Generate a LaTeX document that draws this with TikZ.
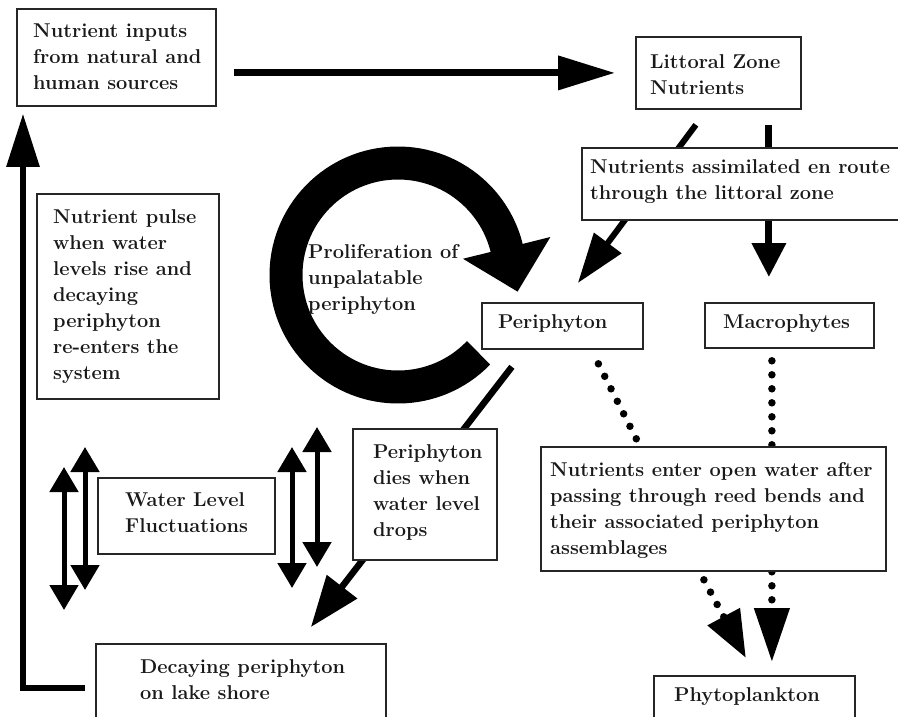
\documentclass[tikz,border=0pt]{standalone}
\usepackage{fontspec}
\usetikzlibrary{arrows.meta,calc}
\pgfdeclarelayer{bgfill}
\pgfdeclarelayer{behind}
\pgfsetlayers{bgfill,behind,main}
\tikzset{
  box/.style={draw=black!85, line width=1.8pt, fill=white, rectangle, inner sep=0pt, anchor=north west},
  txt/.style={align=left, inner sep=0pt, anchor=north west, text=black!90,
              font=\fontsize{20}{26}\selectfont\bfseries},
  dotline/.style={line width=7.5pt, dash pattern=on 0pt off 14pt, line cap=round},
  dbl/.style={line width=5pt, {Triangle[length=25pt,width=28pt]}-{Triangle[length=25pt,width=28pt]}}
}
\begin{document}
\begin{tikzpicture}[x=1pt,y=-1pt]
\clip (0,0) rectangle (898,716);
\begin{pgfonlayer}{bgfill}
\fill[white] (0,0) rectangle (898,716);
\end{pgfonlayer}

% boxes
\node[box, minimum width=199pt, minimum height=97pt] (inputs) at (16,8) {};
\node[box, minimum width=165pt, minimum height=72pt] (lit) at (635,36) {};
\node[box, minimum width=330pt, minimum height=72pt] (assim) at (581,147) {};
\node[box, minimum width=161pt, minimum height=46pt] (per) at (481,302) {};
\node[box, minimum width=169pt, minimum height=45pt] (macro) at (704,302) {};
\node[box, minimum width=182pt, minimum height=205pt] (pulse) at (36,193) {};
\node[box, minimum width=177pt, minimum height=76pt] (water) at (97,477) {};
\node[box, minimum width=144pt, minimum height=131pt] (dies) at (352,428) {};
\node[box, minimum width=345pt, minimum height=124pt] (enter) at (540,446) {};
\node[box, minimum width=290pt, minimum height=88pt] (decay) at (95,643) {};
\node[box, minimum width=201pt, minimum height=70pt] (phyto) at (653,675) {};

% texts
\node[txt] (tinputs) at (33,24) {Nutrient inputs\\from natural and\\human sources};
\node[txt] (tlit) at (650,54) {Littoral Zone\\Nutrients};
\node[txt] (tassim) at (590,159) {Nutrients assimilated en route\\through the littoral zone};
\node[txt] (tper) at (498,314) {Periphyton};
\node[txt] (tmacro) at (723,314) {Macrophytes};
\node[txt] (tpulse) at (53,209) {Nutrient pulse\\when water\\levels rise and\\decaying\\periphyton\\re-enters the\\system};
\node[txt] (twater) at (125,492) {Water Level\\Fluctuations};
\node[txt] (tdies) at (373,444) {Periphyton\\dies when\\water level\\drops};
\node[txt] (tenter) at (550,462) {Nutrients enter open water after\\passing through reed bends and\\their associated periphyton\\assemblages};
\node[txt] (tdecay) at (140,659) {Decaying periphyton\\on lake shore};
\node[txt] (tphyto) at (674,687) {Phytoplankton};

% connectors (behind boxes)
\begin{pgfonlayer}{behind}
\draw[line width=7pt, -{Triangle[length=57pt,width=33pt]}, shorten <=17pt, shorten >=20pt]
  (inputs.east |- lit.west) -- (lit.west);
\draw[line width=6pt, -{Triangle[length=53pt,width=32pt]}, shorten <=10pt]
  (decay.west) -| ($(inputs.south west)+(7,7)$);
\draw[line width=6pt, -{Triangle[length=50pt,width=33pt]}]
  ($(lit.south)+(-22.5,15)$) -- ($(per.north)+(15.5,-19)$);
\draw[line width=7pt, -{Triangle[length=34pt,width=33pt]}]
  ($(lit.south)+(50.5,15)$) -- ($(macro.north)+(-20.5,-25)$);
\draw[line width=6.5pt, -{Triangle[length=51pt,width=37pt]}]
  ($(per.south)+(-50.5,17)$) -- ($(decay.north)+(70,-16)$);
\draw[dotline] ($(per.south)+(36,14)$) -- ($(enter.north)+(-76.5,-6)$);
\draw[dotline] ($(macro.south)+(-17.5,12)$) -- ($(enter.north)+(58.5,0)$);
\draw[dotline, -{Triangle[length=47pt,width=35pt]}]
  ($(enter.south)+(-9.5,8)$) -- ($(phyto.north)+(-8.5,-17)$);
\draw[dotline, -{Triangle[length=54pt,width=34pt]}]
  ($(enter.south)+(58.5,0)$) -- ($(phyto.north)+(17.5,-13)$);
\end{pgfonlayer}

% water level double arrows
\coordinate (a1) at (64,467); \coordinate (a2) at (64,610);
\coordinate (b1) at (85,447); \coordinate (b2) at (85,590);
\coordinate (c1) at (292,447); \coordinate (c2) at (292,588);
\coordinate (d1) at (317,427); \coordinate (d2) at (317,567);
\draw[dbl] (a1) -- (a2);
\draw[dbl] (b1) -- (b2);
\draw[dbl] (c1) -- (c2);
\draw[dbl] (d1) -- (d2);

% circular arrow
\coordinate (cc) at (398,275);
\draw[line width=33pt] ($(cc)+(44:112)$) arc[start angle=44, end angle=347, radius=112];
\fill ($(cc)+(346:67)$) -- ($(cc)+(346:157)$) -- ($(cc)+(346:112)+(10.9,43.7)$) -- cycle;
\node[txt] (tprol) at (308,244) {Proliferation of\\unpalatable\\periphyton};
\end{tikzpicture}
\end{document}
